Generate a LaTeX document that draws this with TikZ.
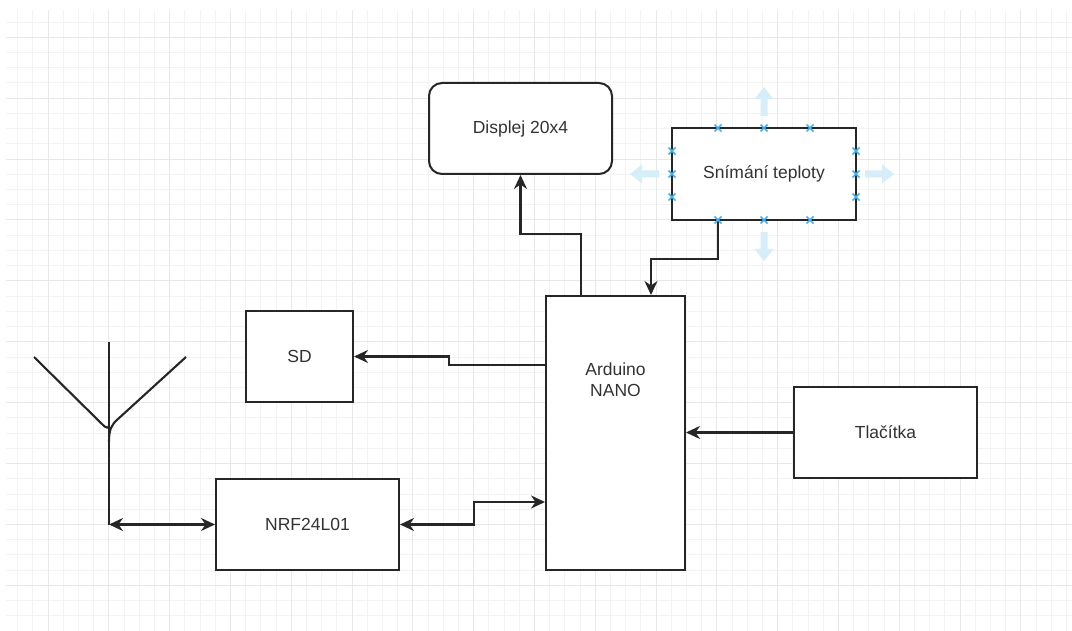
\documentclass[tikz,border=0pt]{standalone}
\usepackage{fontspec}
\setmainfont{Liberation Sans}
\usetikzlibrary{arrows.meta,calc}
\definecolor{gridminor}{HTML}{F3F3F3}
\definecolor{gridmajor}{HTML}{E8E8E8}
\definecolor{ink}{HTML}{262626}
\definecolor{txt}{HTML}{333333}
\definecolor{hint}{HTML}{D6EDFA}
\definecolor{cpt}{HTML}{45B0EE}
\begin{document}
\begin{tikzpicture}[x=1pt,y=-1pt,
  box/.style={draw=ink,line width=2pt,fill=white,inner sep=0pt,
    font=\fontsize{17.5}{21}\selectfont,text=txt,align=center},
  conn/.style={draw=ink,line width=2.1pt,-{Stealth[length=14pt,width=13pt,inset=4.5pt]}},
  dconn/.style={draw=ink,line width=2.1pt,{Stealth[length=14pt,width=13pt,inset=4.5pt]}-{Stealth[length=14pt,width=13pt,inset=4.5pt]}},
  wire/.style={draw=ink,line width=2.1pt,line join=round},
  hintarrow/.style={fill=hint,draw=none},
  cross/.style={draw=cpt,line width=1.5pt}]
\useasboundingbox (0,0) rectangle (1072,631);
\fill[white] (0,0) rectangle (1072,631);
% grid
\begin{scope}
  \clip (6,11) rectangle (1072,631);
  \foreach \i in {-3,...,70} \draw[gridminor,line width=1pt] ({48+15.2*\i},0) -- ++(0,640);
  \foreach \j in {-3,...,42} \draw[gridminor,line width=1pt] (0,{37.3+15.225*\j}) -- ++(1080,0);
  \foreach \i in {-1,...,17} \draw[gridmajor,line width=1pt] ({48+60.8*\i},0) -- ++(0,640);
  \foreach \j in {-1,...,10} \draw[gridmajor,line width=1pt] (0,{37.3+60.9*\j}) -- ++(1080,0);
\end{scope}
% nodes
\node[box,rounded corners=13pt,minimum width=183pt,minimum height=91pt] (disp) at (520.5,128.5) {Displej 20x4};
\node[box,minimum width=184pt,minimum height=92pt] (temp) at (764,174) {Snímání teploty};
\node[box,minimum width=139pt,minimum height=274pt,
  label={[name=ardtxt,anchor=north,align=center,inner sep=0pt,font=\fontsize{17.5}{21}\selectfont,text=txt,yshift=-68pt]north:Arduino\\NANO}] (ard) at (615.5,433) {};
\node[box,minimum width=107pt,minimum height=91pt] (sd) at (299.5,356.5) {SD};
\node[box,minimum width=183pt,minimum height=91pt] (tl) at (885.5,432.5) {Tlačítka};
\node[box,minimum width=183pt,minimum height=91pt] (nrf) at (307.5,524.5) {NRF24L01};
% antenna
\coordinate (ant) at (109,524.5);
\draw[wire] (109,342) -- (ant);
\draw[wire] (34,357) -- (103,425) .. controls (106,428) and (109,429) .. (109,425);
\draw[wire] (186,357) -- (118,419) .. controls (111,425) and (109,430) .. (109,442);
% connectors
\draw[conn] ([xshift=36pt]ard.north west) -- ++(0,-61) -| (disp.south);
\draw[conn] ([xshift=-46pt]temp.south) -- ++(0,38) -| ([xshift=35.5pt]ard.north);
\draw[conn] ([yshift=68pt]ard.west) -- ++(-96,0) |- (sd.east);
\draw[conn] (tl.west) -- (tl.west -| ard.east);
\draw[dconn] (nrf.east) -- ++(74,0) |- ([yshift=-69pt]ard.west);
\draw[dconn] (ant) -- (nrf.west);
% hint arrows around the selected node
\foreach \bx/\by/\r in {764/116/90, 764/232/-90, 659/174/180, 865/174/0}{
  \begin{scope}[shift={(\bx,\by)},rotate=\r]
    \fill[hintarrow] (0,-3.5) -- (17,-3.5) -- (17,-9.5) -- (29,0) -- (17,9.5) -- (17,3.5) -- (0,3.5) -- cycle;
  \end{scope}
}
% connection points
\foreach \px/\py in {718/128,764/128,810/128,718/220,764/220,810/220,672/151,672/174,672/197,856/151,856/174,856/197}{
  \draw[cross] (\px-3.5,\py-3.5) -- (\px+3.5,\py+3.5) (\px-3.5,\py+3.5) -- (\px+3.5,\py-3.5);
}
\end{tikzpicture}
\end{document}
